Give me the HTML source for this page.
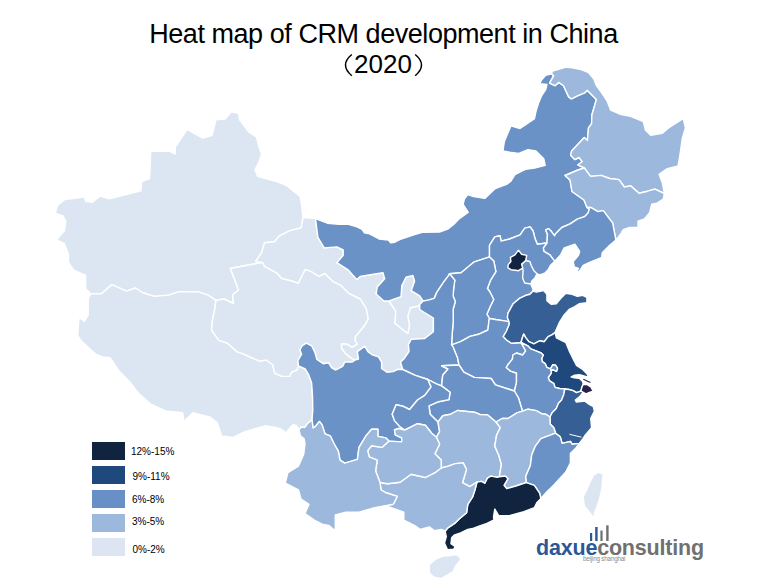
<!DOCTYPE html>
<html><head><meta charset="utf-8">
<style>
html,body{margin:0;padding:0;background:#fff;}
body{width:759px;height:586px;position:relative;overflow:hidden;font-family:"Liberation Sans",sans-serif;}
.t1{position:absolute;left:0;top:19px;width:767px;text-align:center;font-size:27px;letter-spacing:-0.45px;color:#000;white-space:nowrap;line-height:30px;}
.t2{position:absolute;left:354px;top:49px;font-size:26px;color:#000;white-space:nowrap;line-height:30px;}
.lg{position:absolute;left:92px;width:33px;height:18px;}
.lt{position:absolute;left:131px;font-size:10px;color:#000;line-height:12px;white-space:nowrap;}
svg{position:absolute;left:0;top:0;}
.logo{position:absolute;left:536px;top:533px;font-size:21.5px;font-weight:bold;letter-spacing:-0.2px;white-space:nowrap;line-height:30px;}
.logo .a{color:#2b5797;}
.logo .b{color:#707070;}
.sub{position:absolute;left:583px;top:555px;font-size:6.3px;color:#8a8a8a;white-space:nowrap;line-height:8px;letter-spacing:-0.2px;}
</style></head>
<body>
<div class="t1">Heat map of CRM development in China</div>
<div class="t2">2020</div>
<svg width="759" height="586" viewBox="0 0 759 586">
<g stroke="#fff" stroke-width="1.4" stroke-linejoin="round">
<path d="M303.0 217.5 L301.1 201.4 L299.8 196.2 L286.7 185.6 L277.4 181.7 L257.7 176.4 L255.0 169.8 L259.0 161.9 L261.6 154.0 L259.0 147.4 L256.4 136.9 L248.4 131.6 L239.7 119.8 L238.4 113.2 L231.3 111.9 L225.2 119.0 L216.0 119.8 L212.0 135.6 L202.8 138.2 L187.0 129.5 L175.2 147.4 L175.2 154.0 L169.9 151.4 L148.8 151.4 L150.7 152.7 L149.6 178.5 L141.7 181.7 L140.9 190.9 L109.3 198.8 L100.0 196.2 L92.2 202.2 L85.6 201.4 L84.3 197.0 L64.5 199.6 L57.4 205.4 L55.3 213.3 L63.2 216.0 L65.8 221.2 L64.5 230.5 L56.6 239.8 L64.5 243.7 L68.4 254.3 L68.4 262.2 L73.7 270.1 L85.6 275.3 L85.6 288.5 L90.8 293.8 L101.4 293.8 L111.9 284.6 L126.4 291.1 L135.6 288.0 L142.2 292.5 L154.1 296.4 L168.6 295.1 L179.1 291.7 L197.6 291.7 L208.1 295.1 L216.0 300.4 L223.9 299.0 L233.5 303.5 L232.5 295.0 L238.6 290.0 L233.5 276.5 L230.3 268.5 L249.8 264.8 L262.6 262.5 L255.7 261.5 L261.6 252.6 L264.6 242.7 L274.5 241.7 L279.4 235.8 L289.3 230.9 L301.1 227.9 L303.0 217.5Z" fill="#dce6f2"/>
<path d="M90.8 293.8 L101.4 293.8 L111.9 284.6 L126.4 291.1 L135.6 288.0 L142.2 292.5 L154.1 296.4 L168.6 295.1 L179.1 291.7 L197.6 291.7 L208.1 295.1 L216.0 300.4 L214.7 309.6 L212.5 320.0 L211.6 330.1 L218.8 340.3 L227.5 343.2 L237.1 351.8 L242.0 353.3 L250.0 357.0 L260.0 361.1 L266.3 360.0 L272.6 364.8 L274.8 373.2 L282.1 376.4 L289.5 376.4 L291.6 372.2 L296.9 370.0 L298.5 365.8 L305.3 369.0 L308.5 374.3 L311.6 382.7 L312.5 395.0 L312.8 410.2 L312.0 420.0 L307.6 423.5 L304.6 427.6 L301.5 427.0 L298.9 429.7 L296.4 425.6 L293.3 424.6 L290.2 427.6 L286.1 432.8 L280.0 428.7 L273.9 427.2 L265.2 425.8 L244.9 431.6 L233.3 437.4 L221.7 435.9 L217.4 422.9 L210.1 417.1 L192.8 412.8 L184.1 421.4 L182.6 412.8 L166.7 411.3 L150.7 404.1 L137.7 392.5 L129.0 380.9 L118.8 370.7 L110.1 357.7 L102.7 357.0 L96.1 354.4 L81.6 341.2 L77.7 335.9 L79.0 317.5 L84.3 321.4 L88.2 314.9 L88.2 299.0 L90.8 293.8Z" fill="#dce6f2"/>
<path d="M262.6 262.5 L249.8 264.8 L230.3 268.5 L233.5 276.5 L238.6 290.0 L232.5 295.0 L233.5 303.5 L223.9 299.0 L216.0 300.4 L214.7 309.6 L212.5 320.0 L211.6 330.1 L218.8 340.3 L227.5 343.2 L237.1 351.8 L242.0 353.3 L250.0 357.0 L260.0 361.1 L266.3 360.0 L272.6 364.8 L274.8 373.2 L282.1 376.4 L289.5 376.4 L291.6 372.2 L296.9 370.0 L298.5 365.8 L297.9 360.6 L301.6 354.2 L300.0 350.0 L302.1 345.8 L306.4 343.2 L311.6 345.8 L314.8 352.1 L316.9 359.5 L323.2 363.7 L328.5 362.7 L331.7 367.9 L335.9 370.0 L342.6 366.4 L344.8 362.1 L352.1 362.1 L355.0 360.0 L351.1 357.9 L345.8 353.7 L341.6 348.5 L341.6 343.7 L346.9 344.2 L352.1 347.4 L357.4 344.2 L355.3 341.1 L355.3 336.9 L360.6 330.5 L364.8 325.3 L368.3 318.8 L366.4 308.9 L360.4 299.0 L348.6 293.1 L340.7 285.2 L332.8 281.3 L324.9 273.4 L318.9 276.3 L311.0 271.4 L305.1 269.4 L298.2 283.2 L293.2 281.3 L281.4 278.3 L277.4 273.4 L264.6 266.4 L262.6 262.5Z" fill="#dce6f2"/>
<path d="M303.0 217.5 L315.5 218.5 L317.9 237.4 L324.2 247.9 L336.9 246.9 L343.2 250.0 L343.2 255.3 L336.9 262.7 L348.5 270.1 L356.9 279.6 L360.1 276.4 L371.9 274.5 L383.0 272.8 L384.7 278.8 L377.1 287.3 L376.2 294.1 L383.9 301.0 L389.0 301.0 L395.8 311.2 L395.0 323.1 L401.0 328.3 L407.8 333.4 L409.5 324.8 L407.8 316.3 L410.3 307.8 L418.0 306.1 L419.7 304.4 L419.7 309.5 L433.4 318.0 L433.4 331.7 L424.8 338.5 L411.2 339.4 L408.5 344.5 L409.0 351.6 L403.8 359.0 L400.6 362.1 L402.7 369.5 L397.4 369.5 L393.2 371.6 L386.9 372.2 L381.6 368.5 L381.6 362.1 L378.5 356.9 L372.1 354.8 L367.9 351.6 L364.8 346.3 L357.4 351.6 L358.5 359.0 L355.0 360.0 L351.1 357.9 L345.8 353.7 L341.6 348.5 L341.6 343.7 L346.9 344.2 L352.1 347.4 L357.4 344.2 L355.3 341.1 L355.3 336.9 L360.6 330.5 L364.8 325.3 L368.3 318.8 L366.4 308.9 L360.4 299.0 L348.6 293.1 L340.7 285.2 L332.8 281.3 L324.9 273.4 L318.9 276.3 L311.0 271.4 L305.1 269.4 L298.2 283.2 L293.2 281.3 L281.4 278.3 L277.4 273.4 L264.6 266.4 L262.6 262.5 L255.7 261.5 L261.6 252.6 L264.6 242.7 L274.5 241.7 L279.4 235.8 L289.3 230.9 L301.1 227.9 L303.0 217.5Z" fill="#dce6f2"/>
<path d="M389.0 301.0 L401.0 296.7 L401.8 285.6 L406.1 277.1 L412.9 275.4 L414.6 281.3 L411.2 290.7 L419.7 295.8 L423.1 301.0 L419.7 304.4 L418.0 306.1 L410.3 307.8 L407.8 316.3 L409.5 324.8 L407.8 333.4 L401.0 328.3 L395.0 323.1 L395.8 311.2 L389.0 301.0Z" fill="#dce6f2"/>
<path d="M551.6 73.8 L545.7 75.2 L541.7 79.8 L539.8 83.7 L547.0 84.4 L545.7 89.6 L541.7 95.6 L538.4 103.5 L535.8 112.0 L534.5 118.6 L527.9 123.2 L520.0 128.5 L510.9 125.9 L504.3 141.7 L503.0 150.9 L509.6 152.2 L518.8 153.5 L528.0 149.6 L535.9 150.9 L543.8 158.8 L545.2 165.4 L534.6 168.0 L525.4 169.4 L514.9 174.6 L510.9 181.2 L507.2 184.0 L495.3 188.6 L484.8 198.4 L473.6 196.5 L467.7 194.5 L464.4 199.1 L463.1 204.4 L468.3 212.3 L458.4 219.5 L453.9 224.3 L447.7 229.2 L439.5 232.0 L422.3 232.3 L413.8 234.8 L401.2 239.0 L394.9 242.2 L390.6 242.8 L388.5 240.1 L379.0 239.0 L369.6 233.8 L364.3 232.7 L362.2 229.5 L356.9 226.8 L348.5 224.3 L339.0 224.3 L327.4 223.2 L315.5 218.5 L317.9 237.4 L324.2 247.9 L336.9 246.9 L343.2 250.0 L343.2 255.3 L336.9 262.7 L348.5 270.1 L356.9 279.6 L360.1 276.4 L371.9 274.5 L383.0 272.8 L384.7 278.8 L377.1 287.3 L376.2 294.1 L383.9 301.0 L389.0 301.0 L401.0 296.7 L401.8 285.6 L406.1 277.1 L412.9 275.4 L414.6 281.3 L411.2 290.7 L419.7 295.8 L423.1 301.0 L428.3 300.1 L434.2 298.4 L436.8 292.4 L443.6 282.2 L448.7 275.4 L449.5 273.8 L461.1 272.7 L473.7 262.2 L489.5 256.9 L489.5 245.3 L494.8 236.9 L500.1 235.8 L501.1 241.1 L509.6 239.0 L520.1 234.8 L524.8 228.1 L530.1 226.9 L533.1 231.0 L534.9 238.2 L537.3 244.2 L546.9 243.0 L547.5 234.6 L545.7 229.9 L548.7 228.7 L551.0 231.0 L554.6 235.8 L555.8 233.4 L561.8 227.5 L570.1 223.9 L577.3 219.1 L584.5 216.7 L588.1 213.1 L589.3 209.0 L587.0 207.5 L584.0 200.0 L572.0 191.5 L570.0 180.0 L565.0 175.5 L578.0 170.0 L584.3 168.0 L577.9 164.8 L582.2 161.7 L579.0 157.5 L574.8 159.6 L570.6 155.3 L571.6 151.1 L584.3 137.4 L587.4 140.6 L588.5 127.9 L591.6 123.7 L591.8 115.3 L596.4 99.5 L587.2 90.3 L584.6 92.9 L578.0 95.6 L571.4 98.9 L568.7 96.9 L563.5 85.7 L558.9 82.4 L554.9 85.7 L549.6 83.1 L553.6 75.8 L551.6 73.8Z" fill="#6a92c6"/>
<path d="M551.6 73.8 L552.3 71.2 L559.5 69.2 L566.1 67.2 L572.7 67.9 L581.9 69.9 L588.5 72.5 L593.8 79.1 L596.4 85.7 L601.7 92.9 L607.0 100.8 L610.6 110.0 L620.1 114.2 L630.6 116.3 L643.3 121.6 L645.4 130.0 L650.7 135.3 L662.3 133.2 L668.6 127.9 L683.3 118.5 L685.4 127.9 L682.3 138.5 L680.2 153.2 L678.1 165.9 L666.5 169.0 L659.1 174.3 L662.3 182.7 L664.4 193.5 L654.9 189.1 L647.5 191.2 L639.1 193.3 L630.6 185.9 L624.3 187.0 L619.0 179.6 L609.6 178.5 L601.1 175.4 L590.6 176.4 L584.3 168.0 L577.9 164.8 L582.2 161.7 L579.0 157.5 L574.8 159.6 L570.6 155.3 L571.6 151.1 L584.3 137.4 L587.4 140.6 L588.5 127.9 L591.6 123.7 L591.8 115.3 L596.4 99.5 L587.2 90.3 L584.6 92.9 L578.0 95.6 L571.4 98.9 L568.7 96.9 L563.5 85.7 L558.9 82.4 L554.9 85.7 L549.6 83.1 L553.6 75.8 L551.6 73.8Z" fill="#9db8dd"/>
<path d="M584.3 168.0 L590.6 176.4 L601.1 175.4 L609.6 178.5 L619.0 179.6 L624.3 187.0 L630.6 185.9 L639.1 193.3 L647.5 191.2 L654.9 189.1 L664.4 193.5 L663.3 199.0 L657.0 203.2 L651.7 204.3 L649.6 212.7 L644.4 219.0 L638.0 221.1 L638.0 227.5 L629.6 227.5 L623.3 229.6 L620.1 234.8 L615.9 240.1 L612.7 223.2 L603.3 210.6 L598.0 211.6 L590.6 207.4 L587.0 207.5 L584.0 200.0 L572.0 191.5 L570.0 180.0 L565.0 175.5 L578.0 170.0 L584.3 168.0Z" fill="#9db8dd"/>
<path d="M587.0 207.5 L590.6 207.4 L598.0 211.6 L603.3 210.6 L612.7 223.2 L615.9 240.1 L608.5 246.4 L602.2 252.7 L601.7 257.4 L589.0 262.6 L583.2 265.5 L579.5 271.1 L571.1 276.3 L576.4 272.1 L578.5 268.4 L574.3 266.9 L573.2 261.6 L578.5 255.3 L579.7 251.3 L574.9 244.2 L571.3 245.4 L564.2 247.8 L560.6 254.9 L555.0 261.0 L553.4 259.7 L549.9 254.9 L543.9 251.3 L543.3 247.8 L546.9 243.0 L547.5 234.6 L545.7 229.9 L548.7 228.7 L551.0 231.0 L554.6 235.8 L555.8 233.4 L561.8 227.5 L570.1 223.9 L577.3 219.1 L584.5 216.7 L588.1 213.1 L589.3 209.0 L587.0 207.5Z" fill="#6a92c6"/>
<path d="M489.5 256.9 L489.5 245.3 L494.8 236.9 L500.1 235.8 L501.1 241.1 L509.6 239.0 L520.1 234.8 L524.8 228.1 L530.1 226.9 L533.1 231.0 L534.9 238.2 L537.3 244.2 L546.9 243.0 L543.3 247.8 L543.9 251.3 L549.9 254.9 L553.4 259.7 L555.0 261.0 L550.3 265.6 L548.2 269.7 L545.2 272.8 L540.0 274.8 L537.0 273.8 L534.9 277.9 L531.8 280.9 L530.8 284.0 L532.9 289.1 L533.0 291.0 L530.0 294.2 L525.9 295.3 L519.5 298.4 L513.2 303.7 L508.0 313.2 L507.4 317.4 L509.0 321.6 L505.8 321.1 L495.3 319.5 L489.5 318.5 L486.9 314.2 L490.0 306.9 L493.7 299.5 L490.0 292.0 L487.4 288.5 L490.6 280.1 L495.9 271.7 L493.8 261.1 L489.5 256.9Z" fill="#6a92c6"/>
<path d="M449.5 273.8 L461.1 272.7 L473.7 262.2 L489.5 256.9 L493.8 261.1 L495.9 271.7 L490.6 280.1 L487.4 288.5 L490.0 292.0 L493.7 299.5 L490.0 306.9 L486.9 314.2 L489.5 318.5 L489.0 320.5 L487.9 330.0 L478.5 334.3 L470.0 336.4 L460.5 341.6 L451.6 344.8 L452.1 335.3 L453.2 321.6 L453.2 309.0 L455.3 301.6 L453.2 296.3 L453.5 290.0 L454.8 280.1 L449.5 273.8Z" fill="#6a92c6"/>
<path d="M423.1 301.0 L428.3 300.1 L434.2 298.4 L436.8 292.4 L443.6 282.2 L448.7 275.4 L449.5 273.8 L454.8 280.1 L453.5 290.0 L453.2 296.3 L455.3 301.6 L453.2 309.0 L453.2 321.6 L452.1 335.3 L451.6 344.8 L453.2 346.9 L457.5 357.4 L459.0 365.0 L441.6 365.8 L448.0 369.0 L442.7 375.3 L441.6 385.9 L436.4 383.8 L427.9 379.5 L424.9 378.5 L415.3 375.3 L402.7 369.5 L400.6 362.1 L403.8 359.0 L409.0 351.6 L408.5 344.5 L411.2 339.4 L424.8 338.5 L433.4 331.7 L433.4 318.0 L419.7 309.5 L419.7 304.4 L423.1 301.0Z" fill="#6a92c6"/>
<path d="M451.6 344.8 L460.5 341.6 L470.0 336.4 L478.5 334.3 L487.9 330.0 L489.0 320.5 L489.5 318.5 L495.3 319.5 L505.8 321.1 L509.0 321.6 L509.3 324.3 L506.3 331.5 L503.2 336.6 L506.3 339.7 L511.4 343.3 L521.0 342.5 L525.7 350.9 L522.6 355.0 L516.5 353.0 L512.9 355.0 L512.4 359.1 L508.3 364.2 L506.3 367.5 L510.6 371.1 L516.5 373.0 L516.5 382.7 L514.4 391.0 L508.0 389.0 L495.4 384.8 L491.2 378.5 L474.3 377.4 L463.8 372.2 L459.0 365.0 L457.5 357.4 L453.2 346.9 L451.6 344.8Z" fill="#6a92c6"/>
<path d="M533.0 291.0 L536.3 292.1 L543.7 290.6 L546.9 294.3 L546.9 300.6 L551.1 304.3 L556.3 303.7 L560.6 298.5 L565.8 293.2 L572.1 294.3 L577.4 296.4 L582.7 295.3 L586.9 297.4 L586.9 302.7 L579.5 303.7 L574.3 306.9 L569.1 309.5 L563.5 315.8 L559.6 322.1 L555.0 332.5 L552.3 334.6 L548.2 336.6 L544.1 341.7 L540.0 340.7 L533.9 343.8 L528.8 341.7 L525.7 337.6 L523.7 334.1 L522.1 338.7 L521.0 342.5 L511.4 343.3 L506.3 339.7 L503.2 336.6 L506.3 331.5 L509.3 324.3 L509.0 321.6 L507.4 317.4 L508.0 313.2 L513.2 303.7 L519.5 298.4 L525.9 295.3 L530.0 294.2 L533.0 291.0Z" fill="#365f96"/>
<path d="M521.0 342.5 L522.1 338.7 L523.7 334.1 L525.7 337.6 L528.8 341.7 L533.9 343.8 L540.0 340.7 L544.1 341.7 L548.2 336.6 L552.3 334.6 L555.0 332.5 L556.4 337.9 L565.9 342.7 L569.1 350.6 L573.8 360.1 L576.4 365.3 L582.7 369.5 L586.9 373.7 L589.0 377.4 L579.5 374.8 L574.3 375.3 L571.1 376.9 L574.3 377.9 L579.5 378.4 L582.7 381.6 L583.2 384.2 L581.8 387.5 L581.0 391.0 L579.5 391.6 L576.4 392.7 L573.2 390.6 L569.0 389.5 L564.8 389.0 L559.5 388.5 L555.0 387.4 L553.9 383.7 L549.3 380.6 L548.3 377.5 L551.4 372.9 L550.8 370.0 L553.4 369.8 L556.5 371.4 L557.5 368.3 L555.5 365.2 L552.9 364.7 L550.4 368.8 L546.8 367.3 L545.2 363.7 L542.2 361.7 L541.7 358.6 L543.2 355.0 L541.1 353.0 L535.9 350.9 L530.8 348.9 L527.8 345.8 L521.0 342.5Z" fill="#1f497d"/>
<path d="M521.0 342.5 L527.8 345.8 L530.8 348.9 L535.9 350.9 L541.1 353.0 L543.2 355.0 L541.7 358.6 L542.2 361.7 L545.2 363.7 L546.8 367.3 L550.4 368.8 L552.9 364.7 L555.5 365.2 L557.5 368.3 L556.5 371.4 L553.4 369.8 L550.8 370.0 L551.4 372.9 L548.3 377.5 L549.3 380.6 L553.9 383.7 L555.0 387.4 L559.5 388.5 L564.8 389.0 L563.7 394.8 L561.6 400.0 L558.5 403.2 L556.3 408.5 L552.1 412.7 L550.0 417.0 L546.0 414.3 L541.6 413.7 L536.3 410.6 L533.3 410.1 L528.0 409.2 L522.5 411.2 L518.5 398.0 L514.4 391.0 L516.5 382.7 L516.5 373.0 L510.6 371.1 L506.3 367.5 L508.3 364.2 L512.4 359.1 L512.9 355.0 L516.5 353.0 L522.6 355.0 L525.7 350.9 L521.0 342.5Z" fill="#6a92c6"/>
<path d="M564.8 389.0 L569.0 389.5 L573.2 390.6 L576.4 392.7 L579.5 391.6 L581.0 391.0 L586.0 393.8 L582.7 392.7 L579.5 396.9 L575.3 400.0 L576.4 402.1 L580.6 401.6 L584.8 401.1 L589.0 404.3 L593.2 406.4 L594.4 411.1 L590.7 418.5 L591.6 427.7 L585.2 435.1 L582.4 439.7 L579.6 443.4 L572.3 444.3 L570.4 441.5 L562.1 443.4 L560.3 436.9 L555.6 433.2 L553.8 427.7 L550.1 424.0 L550.0 417.0 L552.1 412.7 L556.3 408.5 L558.5 403.2 L561.6 400.0 L563.7 394.8 L564.8 389.0Z" fill="#365f96"/>
<path d="M581.0 391.0 L581.8 387.5 L583.2 384.2 L587.2 384.6 L590.8 387.0 L593.2 391.2 L589.5 392.3 L586.0 393.8 L581.0 391.0Z" fill="#2a2148"/>
<path d="M459.0 365.0 L463.8 372.2 L474.3 377.4 L491.2 378.5 L495.4 384.8 L508.0 389.0 L514.4 391.0 L518.5 398.0 L522.5 411.2 L516.9 412.9 L508.0 418.5 L502.1 418.5 L496.0 422.0 L487.4 414.8 L480.0 414.5 L474.3 412.2 L457.5 410.5 L450.7 414.2 L442.8 415.8 L438.0 422.0 L430.1 414.2 L429.0 405.9 L438.5 401.7 L449.0 399.6 L450.1 392.2 L441.6 385.9 L442.7 375.3 L448.0 369.0 L441.6 365.8 L459.0 365.0Z" fill="#6a92c6"/>
<path d="M298.5 365.8 L297.9 360.6 L301.6 354.2 L300.0 350.0 L302.1 345.8 L306.4 343.2 L311.6 345.8 L314.8 352.1 L316.9 359.5 L323.2 363.7 L328.5 362.7 L331.7 367.9 L335.9 370.0 L342.6 366.4 L344.8 362.1 L352.1 362.1 L355.0 360.0 L358.5 359.0 L357.4 351.6 L364.8 346.3 L367.9 351.6 L372.1 354.8 L378.5 356.9 L381.6 362.1 L381.6 368.5 L386.9 372.2 L393.2 371.6 L397.4 369.5 L402.7 369.5 L415.3 375.3 L424.9 378.5 L427.9 379.5 L431.1 386.9 L424.8 395.3 L417.5 400.0 L409.6 409.5 L403.2 406.3 L396.1 404.7 L392.2 414.2 L394.5 420.6 L400.1 426.9 L404.8 430.0 L398.5 428.5 L394.5 430.0 L395.3 434.8 L401.7 437.9 L401.7 441.9 L389.0 441.1 L385.8 437.9 L377.9 436.4 L377.9 429.2 L371.6 429.2 L366.1 435.6 L359.0 447.4 L357.4 459.3 L344.7 463.2 L340.0 460.1 L338.3 451.2 L334.2 444.0 L330.2 435.8 L325.0 433.8 L322.0 424.6 L319.4 421.5 L315.3 426.6 L313.0 428.0 L312.0 420.0 L312.8 410.2 L312.5 395.0 L311.6 382.7 L308.5 374.3 L305.3 369.0 L298.5 365.8Z" fill="#6a92c6"/>
<path d="M427.9 379.5 L436.4 383.8 L441.6 385.9 L450.1 392.2 L449.0 399.6 L438.5 401.7 L429.0 405.9 L430.1 414.2 L438.0 422.0 L439.6 431.6 L436.4 437.2 L431.7 433.2 L425.4 425.3 L417.5 423.7 L409.6 427.7 L404.8 430.0 L400.1 426.9 L394.5 420.6 L392.2 414.2 L396.1 404.7 L403.2 406.3 L409.6 409.5 L417.5 400.0 L424.8 395.3 L431.1 386.9 L427.9 379.5Z" fill="#6a92c6"/>
<path d="M438.0 422.0 L442.8 415.8 L450.7 414.2 L457.5 410.5 L474.3 412.2 L480.0 414.5 L487.4 414.8 L496.0 422.0 L500.3 427.7 L496.6 435.1 L494.8 446.1 L498.7 455.0 L501.4 464.2 L499.4 476.7 L497.4 477.4 L490.8 476.1 L487.5 478.1 L484.9 483.3 L481.6 481.4 L477.0 482.0 L469.8 486.6 L462.5 482.7 L466.5 469.5 L463.2 462.9 L455.3 463.6 L447.5 466.4 L441.2 468.0 L441.2 460.1 L434.9 453.8 L439.6 444.3 L436.4 437.2 L439.6 431.6 L438.0 422.0Z" fill="#9db8dd"/>
<path d="M522.5 411.2 L528.0 409.2 L533.3 410.1 L536.3 410.6 L541.6 413.7 L546.0 414.3 L550.0 417.0 L550.1 424.0 L553.8 427.7 L555.6 433.2 L540.9 438.7 L535.4 446.1 L531.7 455.0 L530.4 465.5 L525.8 476.1 L526.4 482.7 L521.8 484.0 L515.9 486.0 L506.7 488.6 L504.0 485.3 L508.0 478.7 L505.3 476.1 L499.4 476.7 L501.4 464.2 L498.7 455.0 L494.8 446.1 L496.6 435.1 L500.3 427.7 L496.0 422.0 L502.1 418.5 L508.0 418.5 L516.9 412.9 L522.5 411.2Z" fill="#9db8dd"/>
<path d="M555.6 433.2 L560.3 436.9 L562.1 443.4 L570.4 441.5 L572.3 444.3 L579.6 443.4 L582.4 439.7 L575.9 448.0 L570.4 453.5 L570.4 462.7 L565.8 472.0 L553.8 484.9 L546.4 492.3 L540.9 498.5 L539.6 493.2 L534.3 485.3 L526.4 482.7 L525.8 476.1 L530.4 465.5 L531.7 455.0 L535.4 446.1 L540.9 438.7 L555.6 433.2Z" fill="#6a92c6"/>
<path d="M477.0 482.0 L481.6 481.4 L484.9 483.3 L487.5 478.1 L490.8 476.1 L497.4 477.4 L499.4 476.7 L505.3 476.1 L508.0 478.7 L504.0 485.3 L506.7 488.6 L515.9 486.0 L521.8 484.0 L526.4 482.7 L534.3 485.3 L539.6 493.2 L540.9 498.5 L537.0 502.4 L534.3 507.7 L523.8 511.7 L509.3 515.6 L498.7 515.6 L494.8 509.0 L493.5 516.9 L494.0 519.9 L486.9 523.4 L479.7 525.8 L473.7 528.2 L467.8 529.4 L460.6 533.0 L454.6 534.8 L451.6 537.8 L451.0 543.7 L455.0 546.5 L453.8 549.3 L447.5 549.8 L444.5 543.0 L446.3 536.6 L445.1 531.2 L447.5 528.2 L454.6 523.4 L459.4 518.7 L466.6 512.7 L467.8 504.3 L472.5 497.2 L474.9 490.0 L477.0 482.0Z" fill="#10243f"/>
<path d="M441.2 468.0 L447.5 466.4 L455.3 463.6 L463.2 462.9 L466.5 469.5 L462.5 482.7 L469.8 486.6 L477.0 482.0 L474.9 490.0 L472.5 497.2 L467.8 504.3 L466.6 512.7 L459.4 518.7 L454.6 523.4 L447.5 528.2 L445.1 531.2 L441.5 529.4 L434.3 530.6 L429.6 527.0 L420.0 529.4 L414.4 525.4 L403.8 520.1 L403.8 512.2 L385.4 505.6 L393.3 504.3 L397.3 496.4 L385.4 492.5 L381.1 490.0 L380.0 482.5 L387.4 483.8 L400.1 482.2 L411.1 474.3 L425.4 477.5 L434.9 472.7 L441.2 468.0Z" fill="#9db8dd"/>
<path d="M389.0 441.1 L401.7 441.9 L401.7 437.9 L395.3 434.8 L394.5 430.0 L398.5 428.5 L404.8 430.0 L409.6 427.7 L417.5 423.7 L425.4 425.3 L431.7 433.2 L436.4 437.2 L439.6 444.3 L434.9 453.8 L441.2 460.1 L441.2 468.0 L434.9 472.7 L425.4 477.5 L411.1 474.3 L400.1 482.2 L387.4 483.8 L380.0 482.5 L378.7 479.1 L375.6 471.1 L377.2 460.1 L369.2 456.9 L367.7 450.6 L371.6 445.8 L381.9 447.4 L389.0 441.1Z" fill="#9db8dd"/>
<path d="M298.9 429.7 L300.5 435.8 L304.1 438.9 L305.0 443.7 L303.7 454.3 L298.4 466.1 L287.9 472.7 L285.3 483.2 L298.4 489.8 L301.1 499.1 L309.0 504.3 L305.0 513.5 L314.3 520.1 L322.2 524.1 L328.7 525.4 L335.3 530.7 L335.3 514.9 L345.9 512.2 L359.1 512.2 L372.2 508.3 L385.4 505.6 L393.3 504.3 L397.3 496.4 L385.4 492.5 L381.1 490.0 L380.0 482.5 L378.7 479.1 L375.6 471.1 L377.2 460.1 L369.2 456.9 L367.7 450.6 L371.6 445.8 L381.9 447.4 L389.0 441.1 L385.8 437.9 L377.9 436.4 L377.9 429.2 L371.6 429.2 L366.1 435.6 L359.0 447.4 L357.4 459.3 L344.7 463.2 L340.0 460.1 L338.3 451.2 L334.2 444.0 L330.2 435.8 L325.0 433.8 L322.0 424.6 L319.4 421.5 L315.3 426.6 L313.0 428.0 L312.0 420.0 L307.6 423.5 L304.6 427.6 L301.5 427.0 L298.9 429.7Z" fill="#9db8dd"/>
<path d="M525.7 260.5 L529.8 261.5 L531.3 265.6 L533.9 270.7 L537.0 273.8 L534.9 277.9 L531.8 280.9 L530.8 284.0 L524.7 283.0 L522.6 277.9 L523.1 270.7 L522.6 268.1 L521.6 264.1Z" fill="#6a92c6"/>
<path d="M518.5 250.2 L521.6 254.3 L526.7 255.4 L525.7 260.5 L521.6 264.1 L522.6 268.1 L518.5 270.7 L515.5 270.2 L510.9 269.7 L507.8 267.6 L508.3 264.6 L510.9 261.5 L510.4 257.4 L515.0 254.8Z" fill="#10243f"/>
<path d="M429.5 564.5 L435.8 559.0 L442.9 556.2 L451.6 555.4 L456.4 554.6 L460.3 557.4 L460.3 560.2 L455.6 566.1 L453.2 571.6 L447.7 574.8 L441.3 578.7 L434.2 577.2 L429.5 573.2 L429.1 567.7Z" fill="#dce6f2"/>
<path d="M598.5 472.2 L603.6 474.7 L602.6 478.3 L602.1 487.5 L599.6 498.8 L596.5 508.0 L594.4 513.1 L593.9 518.2 L592.4 516.2 L589.3 512.1 L584.2 505.9 L583.2 496.7 L586.3 490.6 L590.3 481.4 L593.4 475.2Z" fill="#dce6f2"/>
<path d="M583.3 379.3 L590.4 382.5" stroke="#2a2148" stroke-width="1.1" fill="none"/><path d="M569.5 434.3 L581.5 437.2" stroke="#fff" stroke-width="1" fill="none"/>
</g>
<rect x="590" y="533" width="2.2" height="8" fill="#2b5797"/>
<rect x="595.2" y="527" width="2.4" height="14" fill="#2b5797"/>
<rect x="600.4" y="530.5" width="2.2" height="10.5" fill="#707070"/>
<rect x="606.2" y="525.3" width="2.4" height="15.7" fill="#707070"/>
<path d="M351.8 54.5 Q339.2 65 351.8 75.8" fill="none" stroke="#000" stroke-width="1.5"/>
<path d="M415.2 54.5 Q427.8 65 415.2 75.8" fill="none" stroke="#000" stroke-width="1.5"/>
</svg>
<div class="lg" style="top:442px;background:#10243f"></div>
<div class="lg" style="top:466px;background:#1f487c"></div>
<div class="lg" style="top:490px;background:#6990c6"></div>
<div class="lg" style="top:514px;background:#9db8dd"></div>
<div class="lg" style="top:538px;background:#dce5f1"></div>
<div class="lt" style="top:446px">12%-15%</div>
<div class="lt" style="top:471.2px;left:132.5px">9%-11%</div>
<div class="lt" style="top:493.5px;left:132px">6%-8%</div>
<div class="lt" style="top:516px;left:132px">3%-5%</div>
<div class="lt" style="top:544.4px;left:132.5px">0%-2%</div>
<div class="logo"><span class="a">daxue</span><span class="b">consulting</span></div>
<div class="sub">beijing shanghai</div>
</body></html>
